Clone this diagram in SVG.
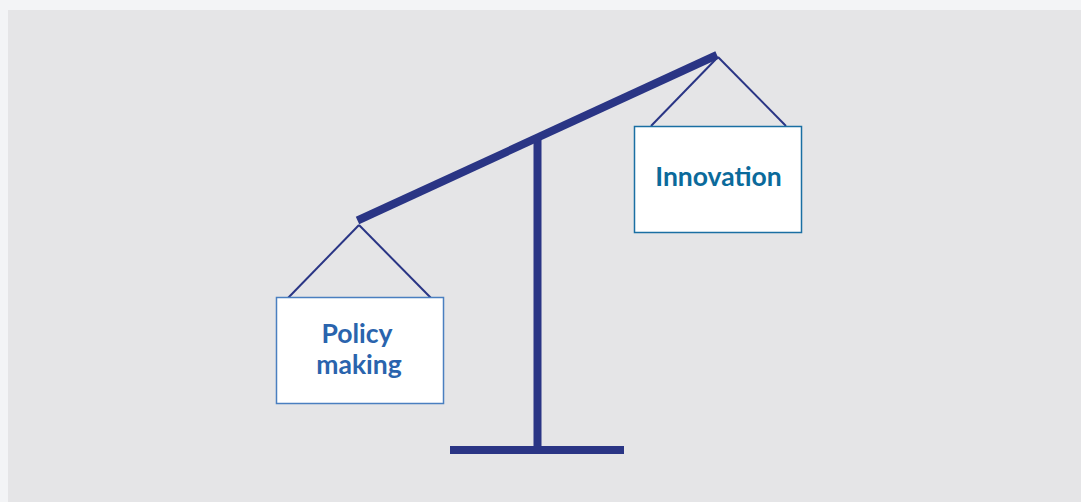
<svg xmlns="http://www.w3.org/2000/svg" width="1081" height="502" viewBox="0 0 1081 502">
  <style>
    .beam { stroke: #2a3585; stroke-linecap: butt; fill: none; }
    .hang { stroke: #2a3585; stroke-width: 2; fill: none; }
    .box { fill: #ffffff; stroke-width: 1.5; }
    .lbl { font-family: Lato, "Open Sans", "Liberation Sans", sans-serif; font-weight: bold; font-size: 26.5px; text-anchor: middle; }
  </style>
  <rect x="0" y="0" width="1081" height="502" fill="#f3f4f6"/>
  <rect x="8" y="10" width="1073" height="492" fill="#e5e5e7"/>
  <g id="connectors">
    <line class="hang" x1="359" y1="225" x2="288" y2="298"/>
    <line class="hang" x1="359" y1="225" x2="431" y2="298"/>
    <line class="hang" x1="718" y1="57" x2="651" y2="126"/>
    <line class="hang" x1="718" y1="57" x2="786" y2="126"/>
  </g>
  <g id="scale">
    <line class="beam" x1="537.5" y1="137" x2="537.5" y2="447" stroke-width="8"/>
    <rect x="450" y="446" width="174" height="8" fill="#2a3585"/>
    <line class="beam" x1="357.5" y1="220.5" x2="717" y2="55" stroke-width="8"/>
  </g>
  <g id="innovation">
    <rect class="box" x="634.5" y="126.5" width="167" height="106" stroke="#1a6fa3"/>
    <text class="lbl" x="718.5" y="186" fill="#0b6a9b">Innovation</text>
  </g>
  <g id="policy-making">
    <rect class="box" x="276.5" y="297.5" width="167" height="106" stroke="#4a7fc0"/>
    <text class="lbl" x="357" y="343" fill="#2a64ad">Policy</text>
    <text class="lbl" x="359" y="374" fill="#2a64ad">making</text>
  </g>
</svg>
